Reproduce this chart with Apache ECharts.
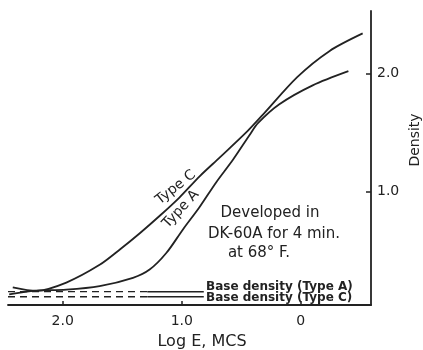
<!DOCTYPE html>
<html>
<head>
<meta charset="utf-8">
<script src="https://cdn.jsdelivr.net/npm/echarts@6/dist/echarts.min.js"></script>
<style>
  html, body { margin: 0; padding: 0; background: #fff; }
  #main { width: 423px; height: 350px; }
</style>
</head>
<body>
<div id="main"></div>
<script>
// Log E (MCS) -> density
var typeC_logE = [2.42, 2.22, 1.97, 1.69, 1.52, 1.35, 1.18, 1.02, 0.85, 0.68, 0.45, 0.32, 0.03, -0.24, -0.52];
var typeC_density = [0.19, 0.16, 0.23, 0.38, 0.51, 0.65, 0.80, 0.95, 1.13, 1.29, 1.51, 1.65, 1.97, 2.19, 2.34];

var typeA_logE = [2.45, 2.25, 1.97, 1.69, 1.41, 1.27, 1.13, 0.99, 0.85, 0.71, 0.57, 0.43, 0.36, 0.18, -0.10, -0.40];
var typeA_density = [0.13, 0.16, 0.17, 0.20, 0.27, 0.34, 0.48, 0.68, 0.87, 1.08, 1.27, 1.48, 1.58, 1.74, 1.90, 2.02];

// base density levels: dashed part then solid lead-in to the label
var base_dashed_logE = [2.46, 1.29];
var base_solid_logE = [1.29, 0.815];
var baseA = 0.153;
var baseC = 0.11;

var xTicks = [2, 1, 0];
var xTickLabels = { 2: '2.0', 1: '1.0', 0: '0' };
var yTicks = [1, 2];

var ink = '#222';
var font = 'DejaVu Sans';

function pairs(xs, ys) {
    var out = [];
    for (var i = 0; i < xs.length; i++) out.push([xs[i], ys[i]]);
    return out;
}
function flat(xs, v) {
    return xs.map(function (x) { return [x, v]; });
}

var myChart = echarts.init(document.getElementById('main'));
var lineStyle = { color: ink, width: 1.8 };

var option = {
    animation: false,
    grid: { left: 8, right: 52, top: 11, bottom: 45 },
    xAxis: {
        type: 'value',
        min: -0.59,
        max: 2.46,
        inverse: true,
        splitLine: { show: false },
        axisLine: { onZero: false, lineStyle: { color: ink, width: 1.8 } },
        axisTick: { inside: true, length: 4, customValues: xTicks, lineStyle: { color: ink, width: 1.5 } },
        axisLabel: {
            customValues: xTicks,
            margin: 9,
            color: ink,
            fontFamily: font,
            fontSize: 14,
            formatter: function (v) { return xTickLabels[v]; }
        }
    },
    yAxis: {
        type: 'value',
        position: 'right',
        min: 0.04,
        max: 2.53,
        splitLine: { show: false },
        axisLine: { show: true, onZero: false, lineStyle: { color: ink, width: 1.8 } },
        axisTick: { show: true, inside: true, length: 5, customValues: yTicks, lineStyle: { color: ink, width: 1.5 } },
        axisLabel: {
            customValues: yTicks,
            margin: 6,
            color: ink,
            fontFamily: font,
            fontSize: 14,
            formatter: function (v) { return v.toFixed(1); }
        }
    },
    series: [
        { name: 'Type C', type: 'line', smooth: 0.3, showSymbol: false, lineStyle: lineStyle, data: pairs(typeC_logE, typeC_density) },
        { name: 'Type A', type: 'line', smooth: 0.3, showSymbol: false, lineStyle: lineStyle, data: pairs(typeA_logE, typeA_density) },
        { type: 'line', showSymbol: false, lineStyle: { color: ink, width: 1.3, type: [7, 5] }, data: flat(base_dashed_logE, baseA) },
        { type: 'line', showSymbol: false, lineStyle: { color: ink, width: 1.3, type: [7, 5] }, data: flat(base_dashed_logE, baseC) },
        { type: 'line', showSymbol: false, lineStyle: { color: ink, width: 1.5 }, data: flat(base_solid_logE, baseA) },
        { type: 'line', showSymbol: false, lineStyle: { color: ink, width: 1.5 }, data: flat(base_solid_logE, baseC) }
    ],
    graphic: [
        { type: 'text', x: 202, y: 342, style: { text: 'Log E, MCS', font: '16px "DejaVu Sans"', fill: ink, align: 'center', verticalAlign: 'middle' } },
        { type: 'text', x: 415, y: 140, rotation: Math.PI / 2, style: { text: 'Density', font: '14px "DejaVu Sans"', fill: ink, align: 'center', verticalAlign: 'middle' } },
        { type: 'text', x: 180, y: 193, rotation: 38 * Math.PI / 180, style: { text: 'Type C', font: '14px "DejaVu Sans"', fill: ink, align: 'center', verticalAlign: 'bottom' } },
        { type: 'text', x: 186, y: 214, rotation: 47 * Math.PI / 180, style: { text: 'Type A', font: '14px "DejaVu Sans"', fill: ink, align: 'center', verticalAlign: 'bottom' } },
        { type: 'text', x: 270, y: 213, style: { text: 'Developed in', font: '15px "DejaVu Sans"', fill: ink, align: 'center', verticalAlign: 'middle' } },
        { type: 'text', x: 274, y: 234, style: { text: 'DK-60A for 4 min.', font: '15px "DejaVu Sans"', fill: ink, align: 'center', verticalAlign: 'middle' } },
        { type: 'text', x: 259, y: 253, style: { text: 'at 68° F.', font: '15px "DejaVu Sans"', fill: ink, align: 'center', verticalAlign: 'middle' } },
        { type: 'text', x: 206, y: 287, style: { text: 'Base density (Type A)', font: 'bold 12px "DejaVu Sans"', fill: ink, align: 'left', verticalAlign: 'middle' } },
        { type: 'text', x: 206, y: 298, style: { text: 'Base density (Type C)', font: 'bold 12px "DejaVu Sans"', fill: ink, align: 'left', verticalAlign: 'middle' } }
    ]
};
myChart.setOption(option);
</script>
</body>
</html>
